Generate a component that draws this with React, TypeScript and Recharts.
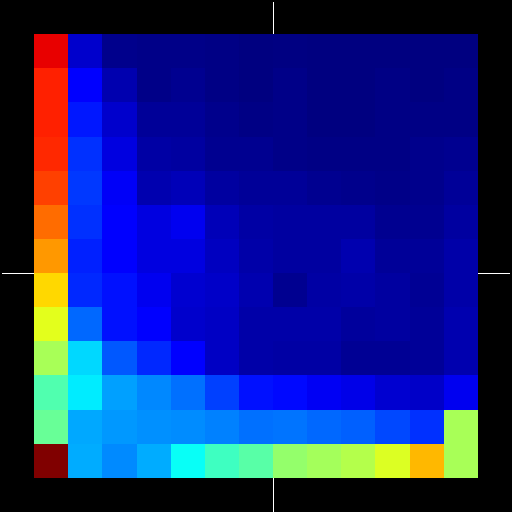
import React from "react";
import { ScatterChart, XAxis, YAxis, ReferenceArea, ReferenceLine, Scatter } from "recharts";

// 13x13 matrix, rows listed top to bottom, values on a 0..1 scale
const CELL_VALUES = [
  [0.898, 0.075, 0.012, 0.008, 0.008, 0.005, 0.0, 0.002, 0.0, 0.0, 0.0, 0.0, 0.0],
  [0.844, 0.125, 0.047, 0.008, 0.016, 0.005, 0.0, 0.008, 0.0, 0.0, 0.005, 0.0, 0.005],
  [0.844, 0.148, 0.075, 0.024, 0.024, 0.012, 0.005, 0.008, 0.0, 0.0, 0.005, 0.005, 0.005],
  [0.836, 0.172, 0.095, 0.036, 0.032, 0.016, 0.016, 0.008, 0.005, 0.005, 0.005, 0.012, 0.016],
  [0.812, 0.18, 0.118, 0.047, 0.055, 0.032, 0.024, 0.024, 0.016, 0.012, 0.008, 0.012, 0.024],
  [0.769, 0.172, 0.125, 0.095, 0.11, 0.055, 0.036, 0.032, 0.032, 0.032, 0.016, 0.016, 0.032],
  [0.726, 0.156, 0.125, 0.095, 0.095, 0.063, 0.04, 0.032, 0.032, 0.047, 0.024, 0.024, 0.04],
  [0.663, 0.164, 0.141, 0.11, 0.079, 0.071, 0.047, 0.016, 0.036, 0.04, 0.032, 0.02, 0.04],
  [0.598, 0.227, 0.141, 0.125, 0.075, 0.067, 0.04, 0.04, 0.04, 0.028, 0.032, 0.024, 0.047],
  [0.54, 0.337, 0.211, 0.164, 0.125, 0.067, 0.04, 0.036, 0.036, 0.02, 0.02, 0.024, 0.047],
  [0.453, 0.356, 0.282, 0.258, 0.235, 0.188, 0.141, 0.133, 0.114, 0.102, 0.079, 0.071, 0.11],
  [0.477, 0.29, 0.274, 0.266, 0.262, 0.251, 0.235, 0.239, 0.227, 0.219, 0.196, 0.172, 0.54],
  [1.0, 0.294, 0.26, 0.294, 0.383, 0.436, 0.461, 0.52, 0.536, 0.551, 0.591, 0.695, 0.54],
];

const AXIS_TICKS = [-1, 0, 1, 2, 3, 4, 5, 6, 7, 8, 9, 10, 11, 12, 13, 14];

const clamp = (v: number) => Math.max(0, Math.min(1, v));

// jet colormap
const jet = (v: number) => {
  const r = clamp(1.5 - Math.abs(4 * v - 3));
  const g = clamp(1.5 - Math.abs(4 * v - 2));
  const b = clamp(1.5 - Math.abs(4 * v - 1));
  return `rgb(${Math.round(r * 255)},${Math.round(g * 255)},${Math.round(b * 255)})`;
};

const cells = CELL_VALUES.flatMap((row, r) =>
  row.map((value, c) => ({ row: r, col: c, value, x: c + 0.5, y: r + 0.5 }))
);

const noLabel = () => <g />;

const App = () => {
  return (
    <div style={{ position: "fixed", left: 0, top: 0, width: 512, height: 512, background: "#000" }}>
      <ScatterChart width={512} height={512} margin={{ top: 0, right: 0, bottom: 0, left: 0 }}>
        <XAxis
          type="number"
          dataKey="x"
          domain={[-1, 14]}
          ticks={AXIS_TICKS}
          allowDataOverflow
          orientation="bottom"
          mirror
          height={0}
          tickSize={2}
          tick={noLabel}
          axisLine={false}
          tickLine={{ stroke: "#fff", shapeRendering: "crispEdges" }}
        />
        <YAxis
          type="number"
          dataKey="y"
          domain={[-1, 14]}
          ticks={AXIS_TICKS}
          allowDataOverflow
          reversed
          orientation="right"
          mirror
          width={0}
          tickSize={2}
          tick={noLabel}
          axisLine={false}
          tickLine={{ stroke: "#fff", shapeRendering: "crispEdges" }}
        />
        <ReferenceLine segment={[{ x: 7, y: -0.94 }, { x: 7, y: 0 }]} stroke="#fff" shapeRendering="crispEdges" />
        <ReferenceLine segment={[{ x: 7, y: 13 }, { x: 7, y: 14 }]} stroke="#fff" shapeRendering="crispEdges" />
        <ReferenceLine segment={[{ x: -0.94, y: 7 }, { x: 0, y: 7 }]} stroke="#fff" shapeRendering="crispEdges" />
        <ReferenceLine segment={[{ x: 13, y: 7 }, { x: 13.94, y: 7 }]} stroke="#fff" shapeRendering="crispEdges" />
        {cells.map((d) => (
          <ReferenceArea
            key={`cell-${d.row}-${d.col}`}
            x1={d.col}
            x2={d.col + 1}
            y1={d.row}
            y2={d.row + 1}
            fill={jet(d.value)}
            fillOpacity={1}
            stroke="none"
            shapeRendering="crispEdges"
          />
        ))}
        <Scatter data={cells} isAnimationActive={false} shape={() => null} />
      </ScatterChart>
    </div>
  );
};

export default App;
